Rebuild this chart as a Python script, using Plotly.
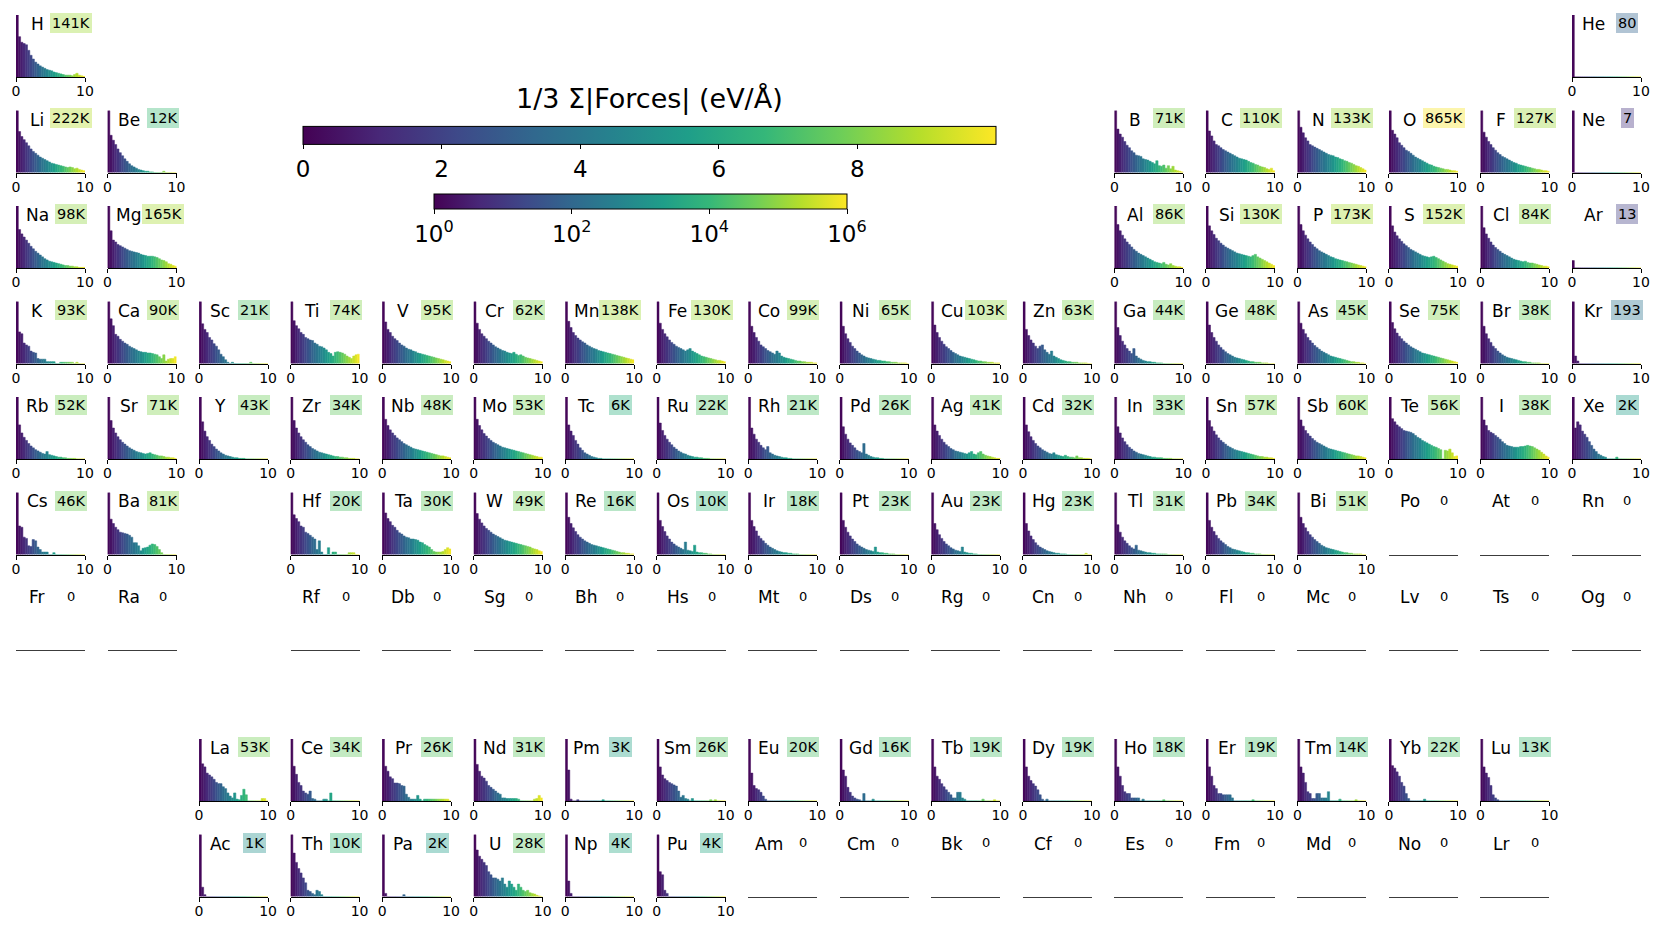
import math
import plotly.graph_objects as go
from plotly.colors import sample_colorscale

W, H = 1661, 929
PAGE_PAD = 8          # default body margin of the html page
FW, FH = W - 2 * PAGE_PAD, H - 2 * PAGE_PAD
FONT = "DejaVu Sans"

# ---------------- data ----------------
ROWS = [
    ["H"] + [None] * 16 + ["He"],
    ["Li", "Be"] + [None] * 10 + ["B", "C", "N", "O", "F", "Ne"],
    ["Na", "Mg"] + [None] * 10 + ["Al", "Si", "P", "S", "Cl", "Ar"],
    ["K", "Ca", "Sc", "Ti", "V", "Cr", "Mn", "Fe", "Co", "Ni", "Cu", "Zn", "Ga", "Ge", "As", "Se", "Br", "Kr"],
    ["Rb", "Sr", "Y", "Zr", "Nb", "Mo", "Tc", "Ru", "Rh", "Pd", "Ag", "Cd", "In", "Sn", "Sb", "Te", "I", "Xe"],
    ["Cs", "Ba", None, "Hf", "Ta", "W", "Re", "Os", "Ir", "Pt", "Au", "Hg", "Tl", "Pb", "Bi", "Po", "At", "Rn"],
    ["Fr", "Ra", None, "Rf", "Db", "Sg", "Bh", "Hs", "Mt", "Ds", "Rg", "Cn", "Nh", "Fl", "Mc", "Lv", "Ts", "Og"],
    [None, None, "La", "Ce", "Pr", "Nd", "Pm", "Sm", "Eu", "Gd", "Tb", "Dy", "Ho", "Er", "Tm", "Yb", "Lu", None],
    [None, None, "Ac", "Th", "Pa", "U", "Np", "Pu", "Am", "Cm", "Bk", "Cf", "Es", "Fm", "Md", "No", "Lr", None],
]

COUNTS = {
    "H": 141000, "He": 80, "Li": 222000, "Be": 12000, "B": 71000, "C": 110000, "N": 133000, "O": 865000,
    "F": 127000, "Ne": 7, "Na": 98000, "Mg": 165000, "Al": 86000, "Si": 130000, "P": 173000, "S": 152000,
    "Cl": 84000, "Ar": 13, "K": 93000, "Ca": 90000, "Sc": 21000, "Ti": 74000, "V": 95000, "Cr": 62000,
    "Mn": 138000, "Fe": 130000, "Co": 99000, "Ni": 65000, "Cu": 103000, "Zn": 63000, "Ga": 44000,
    "Ge": 48000, "As": 45000, "Se": 75000, "Br": 38000, "Kr": 193, "Rb": 52000, "Sr": 71000, "Y": 43000,
    "Zr": 34000, "Nb": 48000, "Mo": 53000, "Tc": 6000, "Ru": 22000, "Rh": 21000, "Pd": 26000, "Ag": 41000,
    "Cd": 32000, "In": 33000, "Sn": 57000, "Sb": 60000, "Te": 56000, "I": 38000, "Xe": 2000, "Cs": 46000,
    "Ba": 81000, "Hf": 20000, "Ta": 30000, "W": 49000, "Re": 16000, "Os": 10000, "Ir": 18000, "Pt": 23000,
    "Au": 23000, "Hg": 23000, "Tl": 31000, "Pb": 34000, "Bi": 51000, "La": 53000, "Ce": 34000, "Pr": 26000,
    "Nd": 31000, "Pm": 3000, "Sm": 26000, "Eu": 20000, "Gd": 16000, "Tb": 19000, "Dy": 19000, "Ho": 18000,
    "Er": 19000, "Tm": 14000, "Yb": 22000, "Lu": 13000, "Ac": 1000, "Th": 10000, "Pa": 2000, "U": 28000,
    "Np": 4000, "Pu": 4000,
}

# histogram bar heights (percent of panel height), 30 bins of 1/3 eV/Å over 0..10
HIST = {
    "H":  [100,65,56,54,52,43,35,29,24,21,18,16,14,12,11,10,8,7,6,5,4,3,3,3,2,4,6,3,2,1],
    "He": [100],
    "Li": [100,66,58,53,48,43,38,34,31,28,25,23,21,19,17,15,14,13,12,11,10,9,8,9,8,6,7,5,4,3],
    "Be": [100,60,52,45,38,32,27,22,18,14,11,9,7,5,4,3,2,2,1,1,0,0,0,0,2,0,0,0,0,0],
    "B":  [100,70,62,57,50,44,40,35,32,28,27,26,22,21,20,18,16,14,19,11,10,12,7,11,6,10,4,3,2,1],
    "C":  [100,67,59,51,45,43,40,37,35,33,31,29,27,25,23,22,21,20,18,16,15,13,12,10,9,8,6,5,7,3],
    "N":  [100,73,64,56,51,45,43,41,39,37,35,33,31,29,28,27,25,24,22,21,19,18,16,15,13,11,10,8,6,4],
    "O":  [100,68,62,56,48,44,40,36,34,31,28,25,23,21,19,17,15,13,12,10,9,8,7,6,5,5,4,3,3,2],
    "F":  [100,65,57,50,45,40,36,32,29,26,24,22,20,18,16,15,13,12,11,10,9,8,7,6,5,5,4,3,3,2],
    "Ne": [100],
    "Na": [100,62,55,50,45,40,35,31,27,24,21,18,15,13,11,10,9,8,7,6,5,4,4,3,3,2,2,1,1,1],
    "Mg": [100,60,45,42,38,36,34,32,30,28,27,26,25,24,22,21,20,19,19,19,18,17,15,13,12,10,7,6,4,3],
    "Al": [100,70,60,53,47,42,38,34,30,27,24,22,20,18,16,14,12,10,9,8,7,9,6,5,7,4,3,2,2,1],
    "Si": [100,68,60,54,48,44,40,37,34,32,30,28,26,24,23,22,21,20,19,18,20,22,18,16,14,12,10,8,6,4],
    "P":  [100,70,60,53,47,42,38,34,31,28,26,24,22,20,18,17,15,14,13,12,11,10,9,8,7,6,5,4,3,2],
    "S":  [100,68,58,52,47,43,39,36,33,30,28,26,24,22,20,19,18,17,18,19,17,15,13,11,9,7,6,5,4,3],
    "Cl": [100,65,55,48,42,37,33,30,27,24,22,20,18,16,14,13,12,11,10,11,9,8,8,7,6,5,4,3,3,2],
    "Ar": [12],
    "K":  [100,51,48,33,30,28,20,18,17,8,7,7,7,3,3,3,3,0,0,2,2,2,2,2,2,0,2,0,0,0],
    "Ca": [100,72,61,47,44,39,36,33,31,28,26,24,22,20,19,18,18,17,17,16,15,14,11,8,14,4,7,8,8,11],
    "Sc": [100,64,55,50,42,38,32,28,22,15,11,6,2,0,2,0,0,0,0,0,0,0,2,0,0,0,0,0,0,0],
    "Ti": [100,69,61,56,50,47,42,40,38,37,33,31,28,27,25,22,18,16,12,18,19,18,17,15,12,10,8,12,14,15],
    "V":  [100,67,55,50,44,40,37,33,30,28,25,23,22,20,19,17,16,15,14,13,12,11,10,9,8,7,6,5,4,3],
    "Cr": [100,65,55,48,44,40,36,33,30,27,25,23,21,20,18,17,16,18,15,13,14,12,10,9,8,7,6,5,4,3],
    "Mn": [100,68,58,50,45,41,38,35,33,30,28,26,24,23,21,20,19,18,17,16,15,14,13,12,11,10,9,8,7,6],
    "Fe": [100,65,55,48,43,38,34,31,28,26,24,22,20,22,24,20,18,16,14,12,11,10,9,8,7,6,5,5,4,3],
    "Co": [100,60,50,42,36,30,27,24,21,19,17,15,20,17,12,10,9,8,7,6,5,4,4,3,3,2,2,2,1,1],
    "Ni": [100,60,48,40,34,28,24,20,17,14,12,10,9,8,7,6,5,5,4,4,3,3,2,2,2,1,1,1,1,0],
    "Cu": [100,62,50,42,36,31,27,24,21,18,16,14,12,11,10,9,8,7,6,5,4,4,3,3,2,2,2,1,1,1],
    "Zn": [100,55,45,38,33,28,24,28,30,22,18,15,20,12,10,8,6,5,4,3,3,2,2,2,1,1,1,1,0,0],
    "Ga": [100,58,45,36,30,24,20,16,24,12,9,7,5,4,3,3,2,2,1,1,1,0,0,0,0,0,0,0,0,0],
    "Ge": [100,62,50,42,36,30,26,22,19,16,14,12,10,9,8,7,6,5,4,3,3,2,2,2,1,1,1,0,0,0],
    "As": [100,65,55,48,42,37,33,29,26,23,20,18,16,14,12,11,10,9,8,7,6,5,4,3,3,2,2,1,1,0],
    "Se": [100,66,56,49,44,40,36,33,30,27,25,23,21,19,17,16,15,14,13,12,11,10,9,8,7,6,5,4,3,2],
    "Br": [100,60,48,40,34,28,24,20,17,14,12,10,9,8,7,6,5,4,3,3,2,2,1,1,1,1,0,0,0,0],
    "Kr": [100,12,4],
    "Rb": [100,55,42,35,30,25,21,18,15,13,11,9,8,12,7,6,5,4,3,3,2,2,1,1,1,1,0,0,0,0],
    "Sr": [100,62,50,42,36,31,27,24,21,18,16,14,12,11,10,9,8,9,10,8,7,6,5,5,4,3,3,2,2,1],
    "Y":  [100,60,45,36,30,24,20,16,13,10,8,6,5,4,3,2,2,1,1,1,0,0,0,0,0,0,0,0,0,0],
    "Zr": [100,62,50,42,36,31,27,23,20,17,15,13,11,10,9,8,7,6,5,4,4,3,3,2,2,1,1,1,0,0],
    "Nb": [100,64,54,47,42,38,34,31,28,25,23,21,19,17,16,15,14,13,12,11,10,9,8,7,6,5,5,4,3,2],
    "Mo": [100,64,54,47,41,37,33,30,27,25,23,21,19,18,17,16,15,14,13,12,11,10,9,8,7,6,5,4,3,3],
    "Tc": [100,55,45,38,30,24,18,14,10,8,6,4,3,2,1,1,0,0,0,0,0,0,0,0,0,0,0,0,0,0],
    "Ru": [100,58,46,38,32,27,23,19,16,13,11,9,8,6,5,4,3,3,2,2,1,1,1,0,0,0,0,0,0,0],
    "Rh": [100,50,40,32,27,22,18,15,20,10,8,6,5,4,3,2,2,1,1,0,0,0,0,0,0,0,0,0,0,0],
    "Pd": [100,52,40,32,26,22,18,14,12,10,25,8,6,4,3,2,2,1,1,0,0,0,0,0,0,0,0,0,0,0],
    "Ag": [100,55,45,38,32,27,23,20,17,15,13,12,11,10,9,8,10,12,8,7,10,12,8,6,5,4,3,2,1,1],
    "Cd": [100,55,44,36,30,25,21,18,15,13,11,9,8,10,7,6,5,4,6,4,3,3,2,5,2,2,1,1,1,0],
    "In": [100,52,42,34,28,23,19,16,13,11,9,8,7,6,5,4,3,3,2,2,2,1,1,1,1,0,0,0,0,0],
    "Sn": [100,62,52,45,39,34,30,27,24,21,19,17,15,14,13,12,11,10,9,8,7,6,5,4,4,3,3,2,2,1],
    "Sb": [100,63,53,46,41,37,33,30,27,25,23,21,19,17,16,15,14,13,12,11,10,9,8,7,6,5,5,4,3,2],
    "Te": [100,65,60,55,52,49,46,45,44,43,41,38,35,33,30,28,26,24,22,20,19,17,15,0,14,13,16,10,4,5],
    "I":  [100,63,54,46,43,41,38,35,32,28,25,22,21,20,19,19,19,20,20,21,22,21,20,18,16,14,11,8,5,3],
    "Xe": [100,50,60,55,45,40,35,28,22,16,12,8,6,4,3,0,0,0,0,3,0,0,0,0,0,0,0,0,0,0],
    "Cs": [100,46,44,28,26,14,13,24,22,12,8,4,4,4,0,0,3,0,0,0,0,0,0,0,0,0,0,0,0,0],
    "Ba": [100,57,50,44,40,36,35,34,33,31,28,19,19,14,6,10,11,12,15,17,16,13,8,3,0,0,0,0,0,0],
    "Hf": [100,64,58,53,46,44,36,34,31,28,25,8,22,4,0,0,11,0,4,4,0,0,0,0,0,3,3,3,0,0],
    "Ta": [100,67,58,53,47,44,39,35,33,30,28,27,25,25,24,23,20,19,16,14,12,8,5,4,4,4,5,8,11,9],
    "W":  [100,66,57,51,46,42,39,36,33,31,29,27,25,23,22,21,20,19,18,17,16,15,14,13,12,10,9,8,6,5],
    "Re": [100,60,50,43,37,32,28,25,22,20,18,16,15,14,13,12,11,10,9,8,7,6,5,4,3,3,2,2,1,1],
    "Os": [100,55,45,37,30,25,20,17,14,12,10,8,20,7,6,5,15,4,3,3,2,2,1,1,0,0,0,0,0,0],
    "Ir": [100,55,45,38,30,26,22,18,15,12,10,8,6,5,4,3,3,2,2,1,1,1,0,0,0,0,0,0,0,0],
    "Pt": [100,55,44,36,30,25,21,17,14,12,10,8,7,6,5,12,4,3,3,2,2,1,1,1,0,0,0,0,0,0],
    "Au": [100,50,40,32,26,21,17,14,11,9,7,6,5,12,4,3,2,2,1,1,0,0,0,0,0,0,0,0,0,0],
    "Hg": [100,50,38,30,24,19,15,12,10,8,6,5,4,3,2,2,1,1,1,0,0,0,0,0,0,0,0,2,0,0],
    "Tl": [100,48,36,28,22,18,14,11,9,15,7,6,5,4,3,3,2,2,1,1,1,1,1,0,0,0,0,0,0,0],
    "Pb": [100,55,44,37,31,26,22,19,16,13,11,9,8,7,6,5,4,3,3,2,2,1,1,1,0,0,0,0,0,0],
    "Bi": [100,60,50,43,37,32,28,24,21,18,15,13,11,10,9,8,7,6,5,4,3,3,2,2,1,1,1,1,0,0],
    "La": [100,60,55,45,42,39,35,30,28,28,23,20,13,8,5,13,3,2,9,19,10,0,0,0,0,0,0,4,4,0],
    "Ce": [100,56,43,30,25,16,13,11,16,4,3,0,0,0,3,3,0,13,0,0,0,0,0,0,0,0,0,0,0,0],
    "Pr": [100,56,48,39,36,29,29,28,25,24,11,6,3,3,3,9,3,0,3,3,3,3,3,3,3,3,3,3,3,0],
    "Nd": [100,59,48,40,37,32,25,22,19,16,13,11,5,5,4,4,4,4,4,3,0,0,0,0,0,0,3,4,9,5],
    "Pm": [100,50,3,0,0,2,0,0,0,0,0,0,0,0,0,0,2,0,0,0,0,0,0,0,0,0,0,0,0,0],
    "Sm": [100,55,42,36,33,30,28,26,24,16,6,9,4,3,0,4,0,0,0,0,0,0,0,2,0,2,0,0,0,0],
    "Eu": [100,45,25,20,18,14,8,3,0,0,0,0,0,0,0,0,0,0,0,0,0,0,0,0,0,0,0,0,0,0],
    "Gd": [100,50,40,22,14,8,5,3,2,0,12,0,0,0,3,0,0,0,0,0,0,0,0,0,0,0,0,0,0,0],
    "Tb": [100,55,40,35,28,23,18,14,10,5,5,14,14,5,3,0,0,0,0,0,0,0,3,0,0,0,0,2,0,0],
    "Dy": [100,55,40,33,28,24,18,10,3,0,3,0,0,0,0,0,0,0,0,0,0,0,0,0,0,0,0,0,0,0],
    "Ho": [100,55,40,25,15,12,12,5,5,5,5,0,3,0,0,0,0,0,0,0,0,2,0,0,0,0,0,0,0,0],
    "Er": [100,55,40,25,20,12,12,10,10,10,10,5,0,0,0,0,0,0,0,0,2,0,0,0,0,0,0,0,0,0],
    "Tm": [100,55,45,30,15,12,4,4,12,12,5,5,5,15,0,0,0,0,3,0,0,0,0,0,0,2,0,0,0,0],
    "Yb": [100,57,53,47,40,30,24,12,4,0,0,0,0,0,0,3,0,0,0,0,0,0,0,0,0,0,0,0,0,0],
    "Lu": [100,55,45,38,25,10,5,2,0,0,0,0,0,0,0,0,0,0,0,0,0,0,0,0,0,0,0,0,0,0],
    "Ac": [100,15,3,0,0,0,0,0,0,0,0,0,0,0,0,0,0,0,0,0,0,0,0,0,0,0,0,0,0,0],
    "Th": [100,70,55,45,38,30,22,10,8,5,3,10,8,3,0,0,0,0,0,0,0,0,0,0,0,0,0,0,0,0],
    "Pa": [100,5,0,0,0,0,0,0,0,3,0,0,0,0,0,0,0,0,0,0,0,0,0,0,0,0,0,0,0,0],
    "U":  [100,75,65,60,55,50,40,35,30,30,28,25,30,20,15,25,20,15,10,20,15,10,8,10,6,5,4,2,1,0],
    "Np": [100,25,5,0,0,0,0,0,0,0,0,0,0,0,0,0,0,0,0,0,0,0,0,0,0,0,0,0,0,0],
    "Pu": [100,40,35,10,5,0,0,0,0,0,0,0,0,0,0,0,0,0,0,0,0,0,0,0,0,0,0,0,0,0],
}

N_BINS = 30
BIN_W = 10 / N_BINS
FORCE_TICKS = [0, 2, 4, 6, 8]
COUNT_TICKS = [0, 2, 4, 6]
COUNT_TICKTEXT = ["10<sup>0</sup>", "10<sup>2</sup>", "10<sup>4</sup>", "10<sup>6</sup>"]
CBAR_TITLE = "1/3 Σ|Forces| (eV/Å)"

# ---------------- geometry (window pixels) ----------------
COL0, COL_STEP, CELL_W, CELL_H = 16, 91.53, 69, 62
ROW_BASE = [77, 172.5, 268, 363.5, 459, 554.5, 650, 801, 896.5]


def px(x):
    return (x - PAGE_PAD) / FW


def py(y):
    return (H - PAGE_PAD - y) / FH


def label_text(n):
    return f"{n / 1000:.0f}K" if n >= 1000 else str(n)


fig = go.Figure()
layout = {}
annotations = []
centers = [(i + 0.5) * BIN_W for i in range(N_BINS)]

k = 0
for r, row in enumerate(ROWS):
    for c, sym in enumerate(row):
        if sym is None:
            continue
        k += 1
        sfx = "" if k == 1 else str(k)
        left = COL0 + c * COL_STEP
        base = ROW_BASE[r]
        count = COUNTS.get(sym, 0)
        has = count > 0
        layout["xaxis" + sfx] = dict(
            domain=[px(left), px(left + CELL_W)], anchor="y" + sfx, range=[0, 10],
            showgrid=False, zeroline=False, showline=True,
            linecolor="black" if has else "#3c3c3c", linewidth=1.4,
            ticks="outside" if has else "", ticklen=4, tickwidth=1.3, tickcolor="black",
            tickvals=[0, 10], showticklabels=has, ticklabelstandoff=-3,
            tickfont=dict(family=FONT, size=14, color="black"), fixedrange=True,
        )
        layout["yaxis" + sfx] = dict(
            domain=[py(base), py(base - CELL_H)], anchor="x" + sfx, range=[0, 1],
            visible=False, fixedrange=True,
        )
        if has:
            hvals = HIST[sym] + [0] * (N_BINS - len(HIST[sym]))
            fig.add_trace(go.Bar(
                x=centers, y=[v / 100 for v in hvals], width=BIN_W,
                marker=dict(color=centers, colorscale="Viridis", cmin=0, cmax=10,
                            line=dict(width=0.5, color=centers, colorscale="Viridis",
                                      cmin=0, cmax=10)),
                xaxis="x" + sfx, yaxis="y" + sfx, showlegend=False, hoverinfo="skip",
            ))
        else:
            fig.add_trace(go.Scatter(
                x=[None], y=[None], mode="markers", xaxis="x" + sfx, yaxis="y" + sfx,
                showlegend=False, hoverinfo="skip",
            ))
        annotations.append(dict(
            x=px(left + 21), y=py(base - 53), xref="paper", yref="paper",
            text=sym, showarrow=False, font=dict(family=FONT, size=17, color="black"),
            xanchor="center", yanchor="middle",
        ))
        if has:
            t = min(max(math.log10(count) / 6, 0), 1)
            rgb = sample_colorscale("Viridis", [t])[0]
            rgba = rgb.replace("rgb(", "rgba(").replace(")", ",0.38)")
            annotations.append(dict(
                x=px(left + 55), y=py(base - 54), xref="paper", yref="paper",
                text=label_text(count), showarrow=False,
                font=dict(family=FONT, size=14.5, color="black"),
                bgcolor=rgba, borderpad=2, borderwidth=0, xanchor="center", yanchor="middle",
            ))
        else:
            annotations.append(dict(
                x=px(left + 55), y=py(base - 54), xref="paper", yref="paper",
                text="0", showarrow=False, font=dict(family=FONT, size=13, color="black"),
                xanchor="center", yanchor="middle",
            ))

# colorbar title (as a paper annotation for exact placement)
annotations.append(dict(
    x=px(649.5), y=py(99), xref="paper", yref="paper", text=CBAR_TITLE, showarrow=False,
    font=dict(family=FONT, size=27, color="black"), xanchor="center", yanchor="middle",
))

# ---------------- colorbars ----------------
fig.add_trace(go.Scatter(
    x=[-100, -100], y=[0.5, 0.5], mode="markers", xaxis="x", yaxis="y",
    showlegend=False, hoverinfo="skip",
    marker=dict(color=[0, 10], colorscale="Viridis", cmin=0, cmax=10, showscale=True,
                colorbar=dict(
                    orientation="h", lenmode="pixels", len=693, thicknessmode="pixels", thickness=18,
                    x=px(649.5), xanchor="center", y=py(183), yanchor="bottom", xpad=0, ypad=0,
                    outlinewidth=1, outlinecolor="black",
                    tickvals=FORCE_TICKS, ticks="outside", ticklen=5, tickcolor="black",
                    tickfont=dict(family=FONT, size=23, color="black"),
                )),
))
fig.add_trace(go.Scatter(
    x=[-100, -100], y=[0.5, 0.5], mode="markers", xaxis="x", yaxis="y",
    showlegend=False, hoverinfo="skip",
    marker=dict(color=[0, 6], colorscale="Viridis", cmin=0, cmax=6, showscale=True,
                colorbar=dict(
                    orientation="h", lenmode="pixels", len=413, thicknessmode="pixels", thickness=15,
                    x=px(640.5), xanchor="center", y=py(194), yanchor="top", xpad=0, ypad=0,
                    outlinewidth=1, outlinecolor="black",
                    tickvals=COUNT_TICKS, ticktext=COUNT_TICKTEXT, ticks="outside", ticklen=5,
                    tickcolor="black", tickfont=dict(family=FONT, size=23, color="black"),
                )),
))

fig.update_layout(
    width=FW, height=FH, margin=dict(l=0, r=0, t=0, b=0, autoexpand=False),
    paper_bgcolor="white", plot_bgcolor="white",
    annotations=annotations, **layout,
)
fig.write_html("out.html")
